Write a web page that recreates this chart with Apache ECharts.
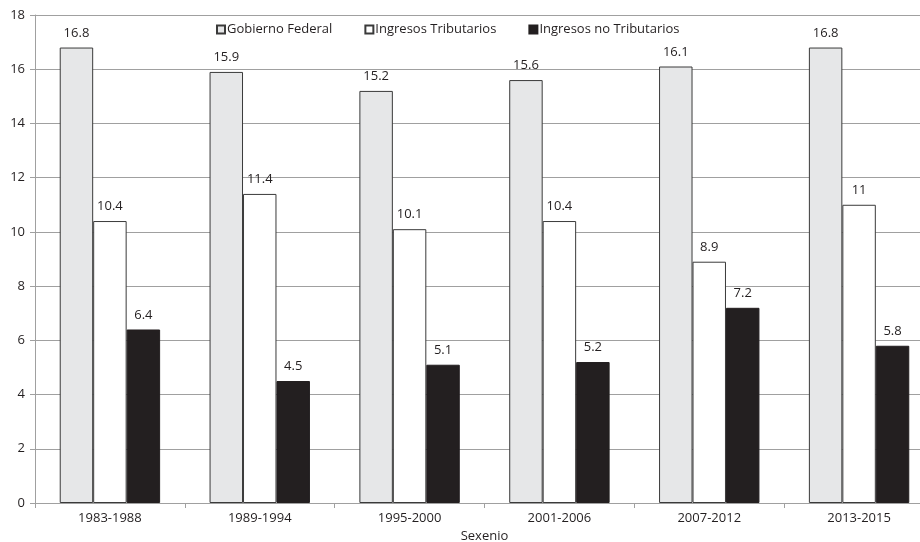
<!DOCTYPE html>
<html><head><meta charset="utf-8">
<script src="https://cdn.jsdelivr.net/npm/echarts@6/dist/echarts.min.js"></script>
<style>html,body{margin:0;padding:0;background:#fff}#c{width:920px;height:542px}</style>
</head><body><div id="c"></div>
<script>
const categories = ['1983-1988','1989-1994','1995-2000','2001-2006','2007-2012','2013-2015'];
const gobiernoFederal = [16.8, 15.9, 15.2, 15.6, 16.1, 16.8];
const ingresosTributarios = [10.4, 11.4, 10.1, 10.4, 8.9, 11];
const ingresosNoTributarios = [6.4, 4.5, 5.1, 5.2, 7.2, 5.8];
const seriesNames = ['Gobierno Federal','Ingresos Tributarios','Ingresos no Tributarios'];
const yTicks = [0,2,4,6,8,10,12,14,16,18];

const font = '"Open Sans", "Liberation Sans", sans-serif';
const txt = '#231f20';
const lbl = {show:true, position:'top', distance:8, color:txt, fontFamily:font, fontSize:13};
const chart = echarts.init(document.getElementById('c'));
chart.setOption({
  animation:false,
  textStyle:{fontFamily:font},
  grid:{left:35, right:-14, top:15, bottom:39, containLabel:false, outerBoundsMode:'none'},
  legend:{
    data:seriesNames, left:211, top:18, itemWidth:8, itemHeight:8, itemGap:32,
    textStyle:{color:txt, fontFamily:font, fontSize:13, padding:[0,0,0,-3]},
    icon:'rect'
  },
  xAxis:{
    type:'category', data:categories,
    name:'Sexenio', nameLocation:'middle', nameGap:24,
    nameTextStyle:{color:txt, fontSize:13, fontFamily:font},
    axisLine:{lineStyle:{color:'#a0a0a0'}},
    axisTick:{show:true, length:5, lineStyle:{color:'#a0a0a0'}},
    axisLabel:{color:txt, fontSize:13, margin:9, fontFamily:font}
  },
  yAxis:{
    type:'value', min:yTicks[0], max:yTicks[yTicks.length-1], interval:2,
    axisLine:{show:true, lineStyle:{color:'#a0a0a0'}},
    axisTick:{show:true, length:5, lineStyle:{color:'#a0a0a0'}},
    axisLabel:{color:txt, fontSize:13, margin:10, fontFamily:font},
    splitLine:{lineStyle:{color:'#a0a0a0'}}
  },
  series:[
    {name:seriesNames[0], type:'bar', data:gobiernoFederal, barGap:'0%', barCategoryGap:'33%',
     itemStyle:{color:'#e6e7e8', borderColor:'#3a3a3a', borderWidth:1}, label:lbl},
    {name:seriesNames[1], type:'bar', data:ingresosTributarios,
     itemStyle:{color:'#ffffff', borderColor:'#3a3a3a', borderWidth:1}, label:lbl},
    {name:seriesNames[2], type:'bar', data:ingresosNoTributarios,
     itemStyle:{color:'#231f20', borderColor:'#231f20', borderWidth:1}, label:lbl}
  ]
});
</script></body></html>
